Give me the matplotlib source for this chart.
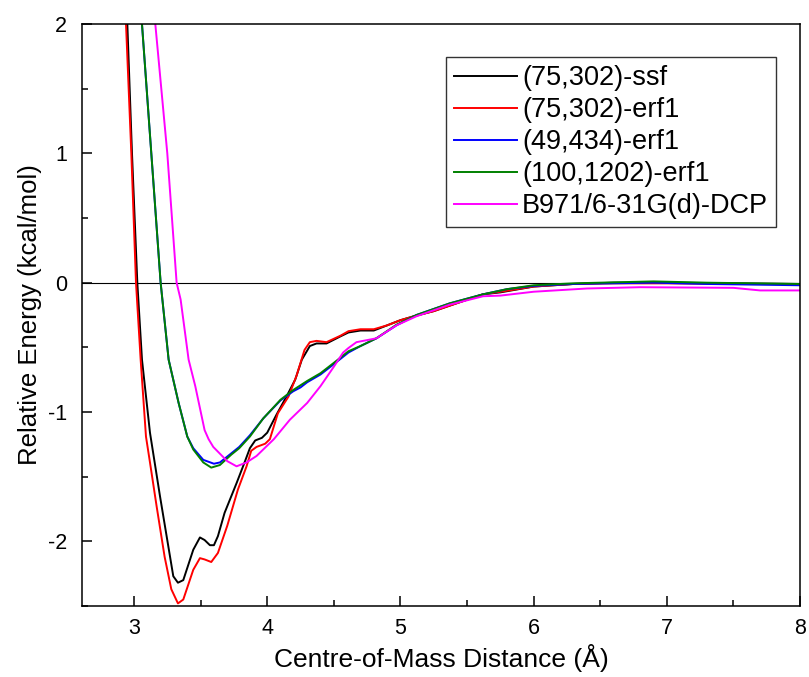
import matplotlib
matplotlib.use("Agg")
import matplotlib.pyplot as plt
from matplotlib.ticker import MultipleLocator

plt.rcParams['font.family'] = ['Liberation Sans', 'DejaVu Sans']
plt.rcParams['axes.unicode_minus'] = False

labels = ["(75,302)-ssf", "(75,302)-erf1", "(49,434)-erf1", "(100,1202)-erf1", "B971/6-31G(d)-DCP"]
colors = ["black", "red", "blue", "green", "magenta"]

x_ssf = [2.95, 2.985, 3.025, 3.06, 3.12, 3.195, 3.245, 3.295, 3.33, 3.37, 3.445, 3.495, 3.53, 3.57, 3.60,
         3.63, 3.68, 3.77, 3.83, 3.87, 3.91, 3.96, 4.00, 4.07, 4.145, 4.21, 4.26, 4.32, 4.37, 4.445, 4.55,
         4.61, 4.70, 4.80, 4.90, 5.00, 5.10, 5.25, 5.42, 5.62, 5.75, 6.0, 6.3, 6.6, 7.0, 7.5, 8.0]
y_ssf = [2.0, 1.0, 0.0, -0.595, -1.16, -1.65, -1.96, -2.27, -2.32, -2.30, -2.065, -1.97, -1.99, -2.03, -2.03,
         -1.96, -1.78, -1.55, -1.39, -1.28, -1.22, -1.20, -1.16, -1.02, -0.88, -0.75, -0.595, -0.49, -0.47, -0.47, -0.415,
         -0.385, -0.37, -0.37, -0.33, -0.29, -0.26, -0.22, -0.16, -0.09, -0.075, -0.03, -0.01, 0.0, 0.0, -0.005, -0.01]

x_erf = [2.94, 2.98, 3.015, 3.05, 3.09, 3.12, 3.17, 3.23, 3.28, 3.33, 3.37, 3.445, 3.495, 3.53, 3.58, 3.63,
         3.70, 3.78, 3.845, 3.88, 3.92, 3.985, 4.02, 4.08, 4.16, 4.22, 4.28, 4.32, 4.37, 4.445, 4.55, 4.61,
         4.70, 4.80, 4.90, 5.00, 5.10, 5.25, 5.42, 5.62, 5.75, 6.0, 6.3, 6.6, 7.0, 7.5, 8.0]
y_erf = [2.0, 1.0, 0.0, -0.595, -1.19, -1.39, -1.73, -2.12, -2.37, -2.48, -2.45, -2.22, -2.13, -2.14, -2.16, -2.09,
         -1.88, -1.60, -1.42, -1.30, -1.27, -1.245, -1.21, -1.01, -0.88, -0.72, -0.52, -0.46, -0.45, -0.46, -0.41, -0.375,
         -0.36, -0.36, -0.33, -0.29, -0.26, -0.22, -0.16, -0.09, -0.07, -0.03, -0.01, -0.005, -0.005, -0.01, -0.01]

x_49 = [3.06, 3.13, 3.20, 3.26, 3.335, 3.40, 3.445, 3.52, 3.60, 3.645, 3.73, 3.79, 3.87, 3.97, 4.10, 4.195,
        4.25, 4.30, 4.40, 4.50, 4.61, 4.70, 4.82, 4.97, 5.12, 5.37, 5.62, 5.8, 6.0, 6.3, 6.9, 7.3, 8.0]
y_49 = [2.0, 1.0, 0.0, -0.595, -0.93, -1.19, -1.28, -1.37, -1.40, -1.39, -1.32, -1.27, -1.18, -1.05, -0.91, -0.84,
        -0.81, -0.77, -0.71, -0.63, -0.54, -0.49, -0.43, -0.33, -0.25, -0.16, -0.09, -0.05, -0.025, -0.01, 0.0, -0.01, -0.02]

x_100 = [3.06, 3.13, 3.20, 3.26, 3.335, 3.40, 3.445, 3.52, 3.58, 3.645, 3.73, 3.79, 3.87, 3.97, 4.10, 4.195,
         4.30, 4.40, 4.50, 4.61, 4.70, 4.82, 4.97, 5.12, 5.37, 5.62, 5.8, 6.0, 6.3, 6.9, 7.3, 8.0]
y_100 = [2.0, 1.0, 0.0, -0.595, -0.93, -1.19, -1.29, -1.39, -1.43, -1.41, -1.33, -1.28, -1.19, -1.05, -0.905, -0.83,
         -0.76, -0.70, -0.62, -0.53, -0.49, -0.43, -0.325, -0.25, -0.16, -0.09, -0.05, -0.02, -0.005, 0.01, 0.0, -0.01]

x_dcp = [3.16, 3.25, 3.32, 3.35, 3.41, 3.46, 3.53, 3.56, 3.595, 3.70, 3.77, 3.845, 3.92, 4.05, 4.17, 4.30,
         4.40, 4.50, 4.57, 4.61, 4.67, 4.82, 4.97, 5.12, 5.37, 5.62, 5.75, 6.0, 6.4, 6.8, 7.5, 7.7, 8.0]
y_dcp = [2.0, 1.0, 0.0, -0.13, -0.595, -0.80, -1.14, -1.21, -1.27, -1.38, -1.42, -1.39, -1.34, -1.21, -1.06, -0.93,
         -0.80, -0.65, -0.54, -0.505, -0.46, -0.43, -0.33, -0.26, -0.17, -0.105, -0.10, -0.07, -0.045, -0.035, -0.04, -0.06, -0.06]

series = [(x_ssf, y_ssf), (x_erf, y_erf), (x_49, y_49), (x_100, y_100), (x_dcp, y_dcp)]

fig = plt.figure(figsize=(8.09, 6.77), dpi=100)
ax = fig.add_axes([0.1014, 0.1049, 0.8876, 0.8596])

ax.axhline(0, color='black', lw=0.8, zorder=1)
for (xs, ys), c, lab in zip(series, colors, labels):
    ax.plot(xs, ys, color=c, lw=1.4, label=lab, zorder=2)

ax.set_xlim(2.61, 8.0)
ax.set_ylim(-2.5, 2.0)
ax.xaxis.set_major_locator(MultipleLocator(1))
ax.xaxis.set_minor_locator(MultipleLocator(0.5))
ax.yaxis.set_major_locator(MultipleLocator(1))
ax.yaxis.set_minor_locator(MultipleLocator(0.5))
ax.tick_params(which='both', direction='in', top=False, right=False, width=1.1, labelsize=15.5)
ax.tick_params(which='major', length=7)
ax.tick_params(which='minor', length=4)
ax.tick_params(axis='x', pad=9)
ax.tick_params(axis='y', pad=11)
for s in ax.spines.values():
    s.set_linewidth(1.1)

ax.set_xlabel("Centre-of-Mass Distance (Å)", fontsize=19, labelpad=3)
ax.set_ylabel("Relative Energy (kcal/mol)", fontsize=18.5, labelpad=4)

leg = ax.legend(loc='upper right', bbox_to_anchor=(0.9666, 0.9433), borderaxespad=0,
                fontsize=19.5, handlelength=2.3, handletextpad=0.2, labelspacing=0.22,
                fancybox=False, frameon=True, borderpad=0.3, handleheight=0.7)
leg.get_frame().set_edgecolor('black')
leg.get_frame().set_linewidth(1.0)

fig.savefig("out.png", dpi=100)
